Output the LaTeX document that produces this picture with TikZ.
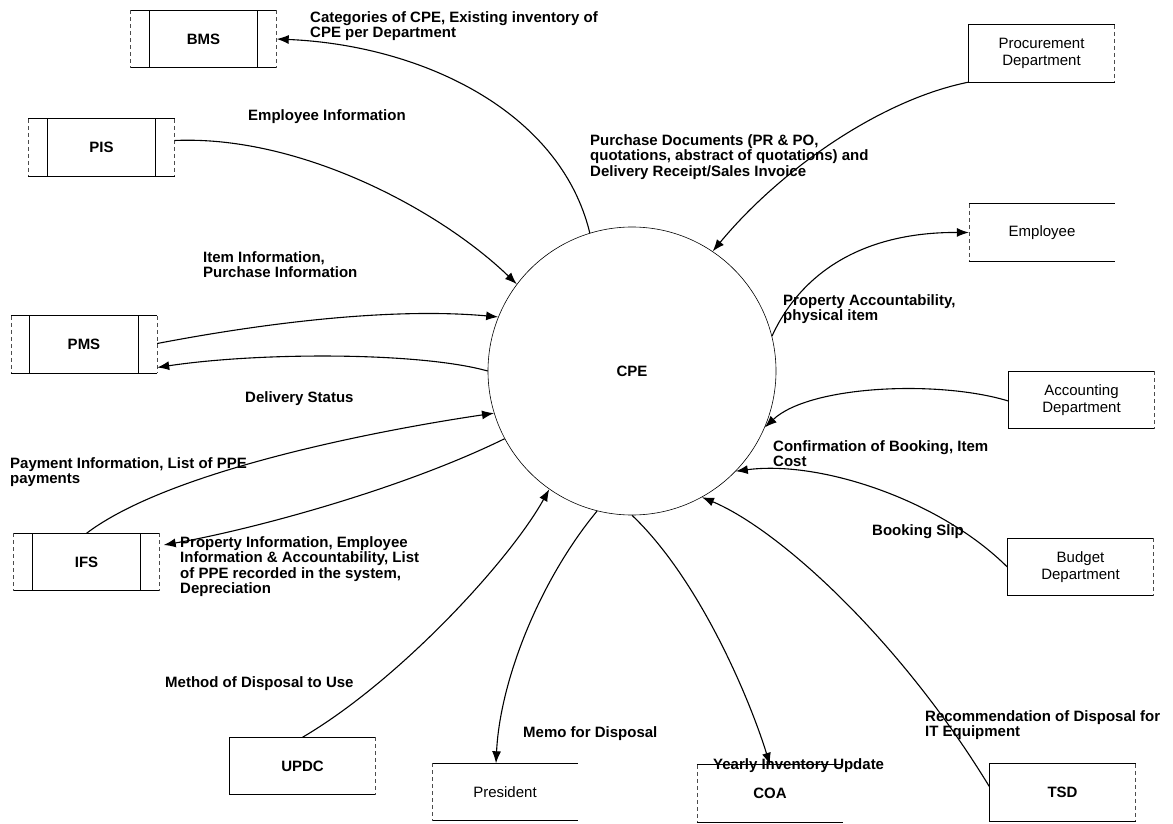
\documentclass[tikz,border=0pt]{standalone}
\usepackage{fontspec}
\setmainfont{Liberation Sans}
\usetikzlibrary{arrows.meta}
\begin{document}
\begin{tikzpicture}[x=1pt,y=-1pt,
  every node/.style={font=\bfseries\fontsize{15}{15.5}\selectfont},
  lbl/.style={anchor=north west, align=left, inner sep=0pt},
  box/.style={rectangle, minimum width=146, minimum height=57, inner sep=0pt},
  plain/.style={font=\mdseries\fontsize{15}{16.5}\selectfont},
  frame/.style={line width=1pt},
  side/.style={line width=0.6pt, dash pattern=on 4pt off 3pt, black!70},
  flow/.style={line width=1.1pt, -{Latex[length=12pt,width=9pt]}},
  proc/.style={circle, draw, line width=0.6pt, minimum size=288, inner sep=0pt}]
\useasboundingbox (0,0) rectangle (1173,824);

% central process
\node[proc] (cpe) at (632,371) {CPE};

% data stores
\node[box] (bms) at (203.5,39)  {BMS};
\node[box] (pis) at (101.5,147.5) {PIS};
\node[box] (pms) at (84,344.5)  {PMS};
\node[box] (ifs) at (86.5,562)  {IFS};

% external entities
\node[box, plain, align=center] (proc) at (1041.5,53.5) {Procurement\\Department};
\node[box, plain] (emp) at (1042,232.5) {Employee};
\node[box, plain, align=center] (acct) at (1081.5,400) {Accounting\\Department};
\node[box, plain, align=center] (budg) at (1080.5,567) {Budget\\Department};
\node[box, plain] (pres) at (505,792) {President};
\node[box] (coa) at (770,793.5) {COA};
\node[box] (tsd) at (1062.5,792.5) {TSD};
\node[box] (updc) at (302.5,766) {UPDC};

% store outlines: two bars inside
\foreach \n in {bms,pis,pms,ifs}{
  \draw[frame] (\n.north west) -- (\n.north east) (\n.south west) -- (\n.south east);
  \draw[side] (\n.north west) -- (\n.south west) (\n.north east) -- (\n.south east);
  \draw[frame] ([xshift=19pt]\n.north west) -- ([xshift=19pt]\n.south west)
               ([xshift=-19pt]\n.north east) -- ([xshift=-19pt]\n.south east);
}
% entity outlines
\foreach \n in {proc,acct,budg,tsd,updc}{
  \draw[frame] (\n.north west) -- (\n.north east) (\n.south west) -- (\n.south east)
               (\n.north west) -- (\n.south west);
  \draw[side] (\n.north east) -- (\n.south east);
}
\foreach \n in {emp,pres,coa}{
  \draw[frame] (\n.north west) -- (\n.north east) (\n.south west) -- (\n.south east);
  \draw[side] (\n.north west) -- (\n.south west);
}

% data flows
\draw[flow] (cpe.107) .. controls (560,110) and (420,45) .. (bms.east);
\draw[flow] ([yshift=7pt]pis.east) .. controls (300,135) and (440,210) .. (cpe.143);
\draw[flow] ([yshift=1pt]pms.east) .. controls (280,320) and (400,308) .. (cpe.158);
\draw[flow] (cpe.180) .. controls (420,352) and (260,352) .. ([yshift=-23pt]pms.east);
\draw[flow] (ifs.north) .. controls (170,470) and (380,430) .. (cpe.197);
\draw[flow] (cpe.208) .. controls (400,490) and (250,530) .. ([yshift=17pt,xshift=4pt]ifs.east);
\draw[flow] (updc.north) .. controls (400,680) and (510,560) .. (cpe.235);
\draw[flow] (cpe.256) .. controls (540,580) and (500,680) .. ([xshift=-9pt]pres.north);
\draw[flow] (cpe.270) .. controls (700,580) and (750,700) .. (coa.north);
\draw[flow] ([yshift=6pt]tsd.west) .. controls (900,640) and (780,530) .. (cpe.299);
\draw[flow] (budg.west) .. controls (940,500) and (820,460) .. (cpe.316);
\draw[flow] ([yshift=-1pt]acct.west) .. controls (940,380) and (810,385) .. (cpe.337);
\draw[flow] (cpe.14) .. controls (800,275) and (860,232) .. (emp.west);
\draw[flow] (proc.south west) .. controls (880,100) and (780,170) .. (cpe.56);

% flow labels
\node[lbl] (l1)  at (310,11)  {Categories of CPE, Existing inventory of\\CPE per Department};
\node[lbl] (l2)  at (248,109) {Employee Information};
\node[lbl] (l3)  at (203,251) {Item Information,\\Purchase Information};
\node[lbl] (l4)  at (245,391) {Delivery Status};
\node[lbl] (l5)  at (10,457)  {Payment Information, List of PPE\\payments};
\node[lbl] (l6)  at (180,536) {Property Information, Employee\\Information \& Accountability, List\\of PPE recorded in the system,\\Depreciation};
\node[lbl] (l7)  at (165,676) {Method of Disposal to Use};
\node[lbl] (l8)  at (523,726) {Memo for Disposal};
\node[lbl] (l9)  at (713,758) {Yearly Inventory Update};
\node[lbl] (l10) at (925,710) {Recommendation of Disposal for\\IT Equipment};
\node[lbl] (l11) at (872,524) {Booking Slip};
\node[lbl] (l12) at (773,440) {Confirmation of Booking, Item\\Cost};
\node[lbl] (l13) at (783,294) {Property Accountability,\\physical item};
\node[lbl] (l14) at (590,134) {Purchase Documents (PR \& PO,\\quotations, abstract of quotations) and\\Delivery Receipt/Sales Invoice};
\end{tikzpicture}
\end{document}
